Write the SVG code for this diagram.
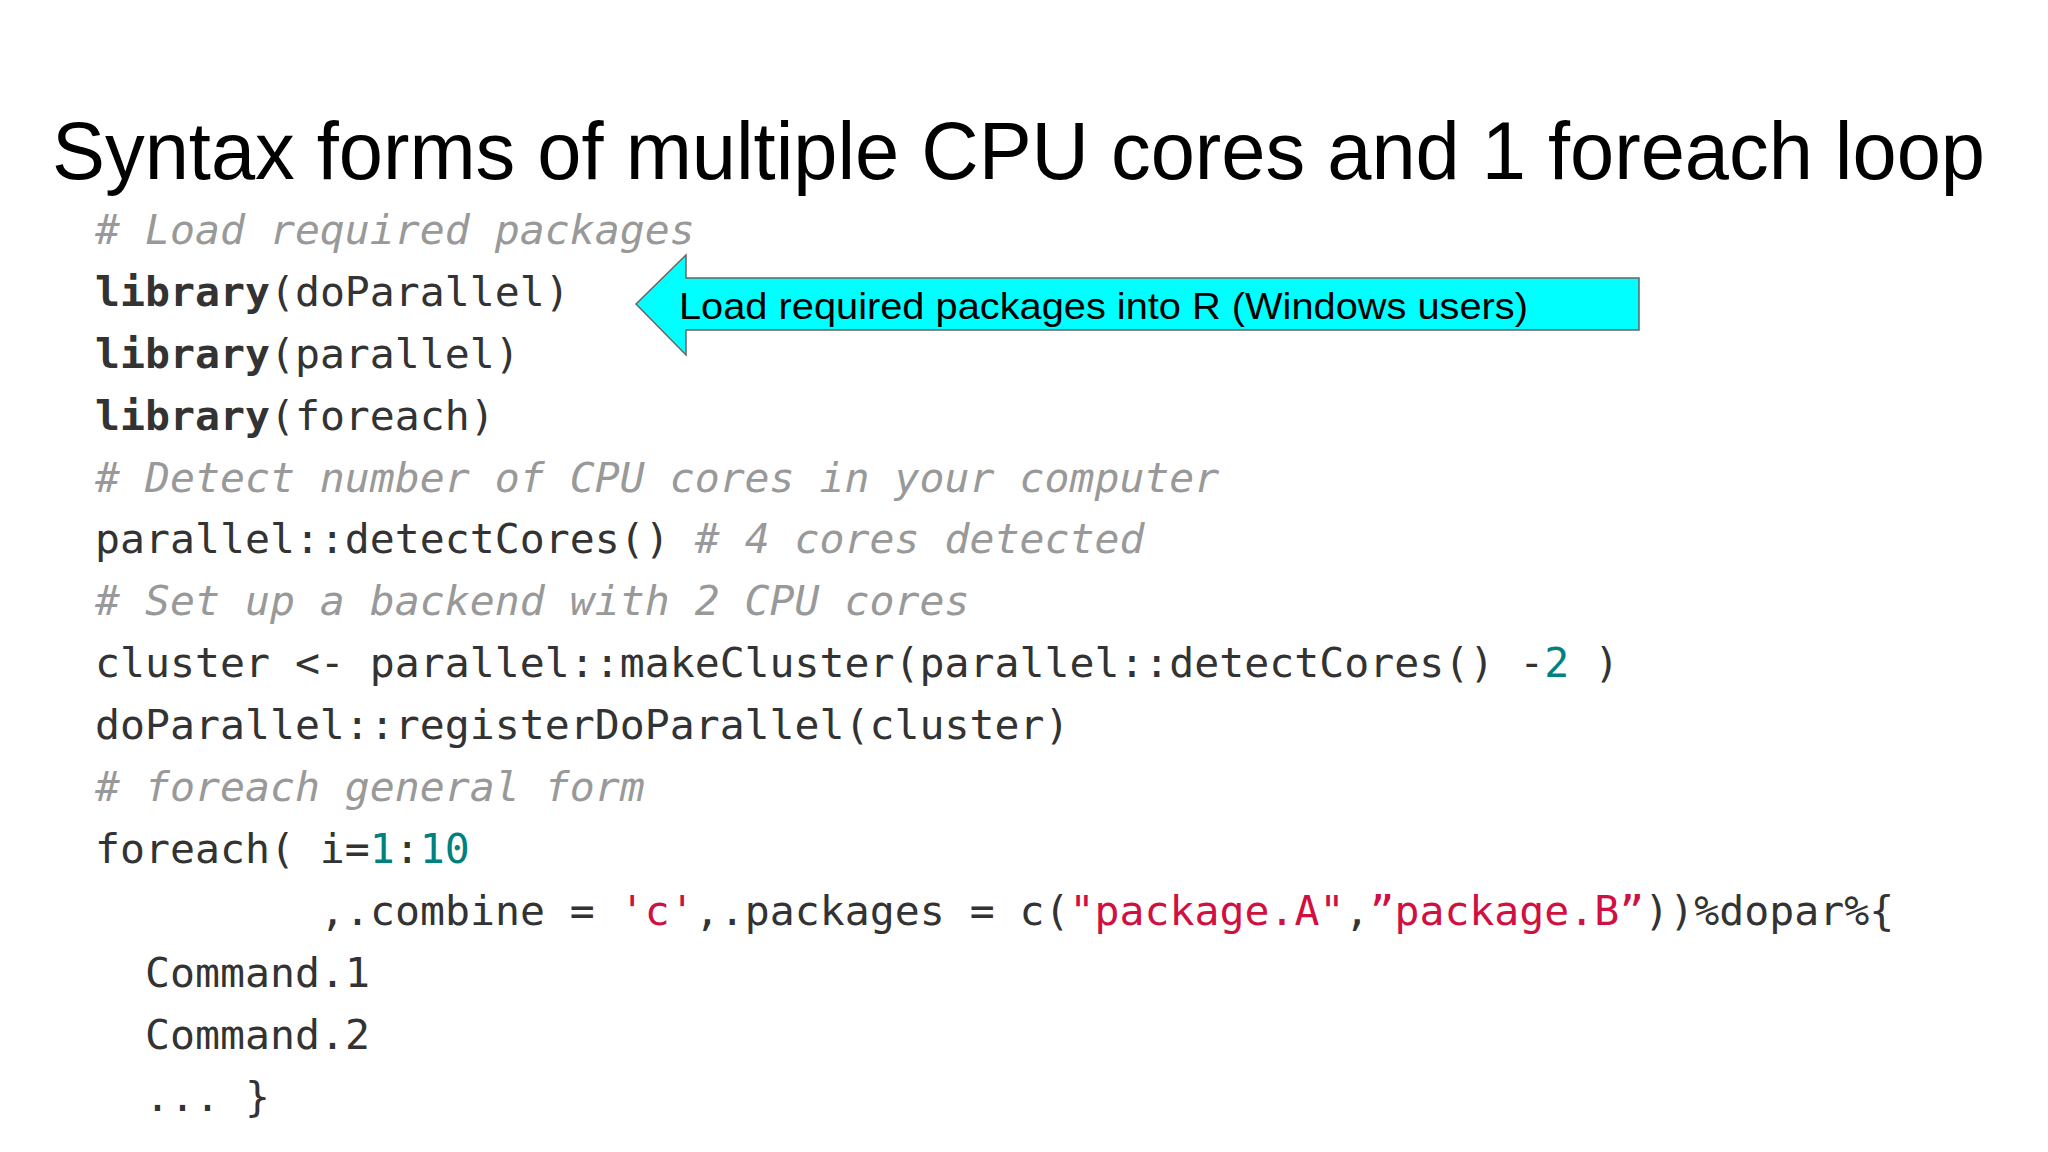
<svg xmlns="http://www.w3.org/2000/svg" width="2048" height="1152" viewBox="0 0 2048 1152">
<style>
.c{font-family:"DejaVu Sans Mono","Liberation Mono",monospace;font-size:41.5px;fill:#333;white-space:pre}
.cm{fill:#999;font-style:italic}
.k{font-weight:bold}
.n{fill:#008080}
.s{fill:#d01040}
</style>
<rect width="2048" height="1152" fill="#fff"/>
<g id="title"><text x="52" y="179" font-family="Liberation Sans,Arial,sans-serif" font-size="82" fill="#000" textLength="1933" lengthAdjust="spacingAndGlyphs">Syntax forms of multiple CPU cores and 1 foreach loop</text></g>
<g id="code" class="c">
<text x="95" y="244" class="c cm"># Load required packages</text>
<text x="95" y="306"><tspan class="k">library</tspan>(doParallel)</text>
<text x="95" y="368"><tspan class="k">library</tspan>(parallel)</text>
<text x="95" y="430"><tspan class="k">library</tspan>(foreach)</text>
<text x="95" y="492" class="c cm"># Detect number of CPU cores in your computer</text>
<text x="95" y="553">parallel::detectCores() <tspan class="cm"># 4 cores detected</tspan></text>
<text x="95" y="615" class="c cm"># Set up a backend with 2 CPU cores</text>
<text x="95" y="677">cluster &lt;- parallel::makeCluster(parallel::detectCores() -<tspan class="n">2</tspan> )</text>
<text x="95" y="739">doParallel::registerDoParallel(cluster)</text>
<text x="95" y="801" class="c cm"># foreach general form</text>
<text x="95" y="863">foreach( i=<tspan class="n">1</tspan>:<tspan class="n">10</tspan></text>
<text x="320" y="925">,.combine = <tspan class="s">'c'</tspan>,.packages = c(<tspan class="s">"package.A"</tspan>,<tspan class="s">”package.B”</tspan>))%dopar%{</text>
<text x="145" y="987">Command.1</text>
<text x="145" y="1049">Command.2</text>
<text x="145" y="1111">... }</text>
</g>
<g id="callout">
<polygon points="636,304 686,255 686,278 1639,278 1639,330 686,330 686,355" fill="#00ffff" stroke="#666" stroke-width="1.5"/>
<text x="679" y="319" font-family="Liberation Sans,Arial,sans-serif" font-size="37" fill="#000" textLength="849" lengthAdjust="spacingAndGlyphs">Load required packages into R (Windows users)</text>
</g>
</svg>
